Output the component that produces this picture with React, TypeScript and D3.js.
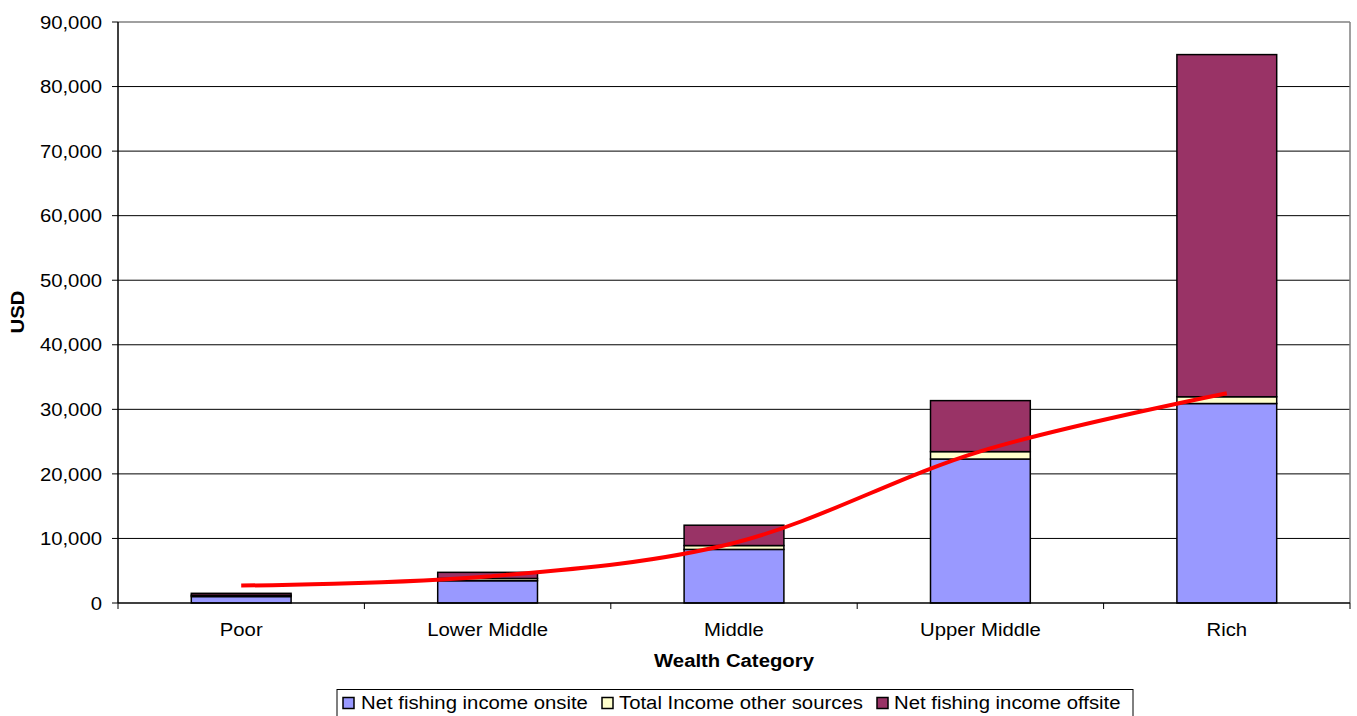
import React from "react";
import * as d3 from "d3";

const categories = ["Poor", "Lower Middle", "Middle", "Upper Middle", "Rich"];
const onsite = [1000, 3450, 8300, 22300, 30900];
const otherSources = [200, 350, 600, 1150, 1050];
const offsite = [300, 950, 3150, 7900, 53000];
const trend = [2700, 4100, 9300, 23500, 32500];
const yTicks = [0, 10000, 20000, 30000, 40000, 50000, 60000, 70000, 80000, 90000];
const seriesNames = ["Net fishing income onsite", "Total Income other sources", "Net fishing income offsite"];
const seriesColors = ["#9999FF", "#FFFFCC", "#993366"];

const W = 1357;
const H = 716;
const left = 118;
const right = 1350;
const top = 22;
const bottom = 603;
const FONT = "Liberation Sans, Arial, sans-serif";
const SX = 1.07;

function T(props: { x: number; y: number; anchor?: string; size?: number; bold?: boolean; rotate?: number; children: React.ReactNode; dy?: string }) {
  const { x, y, anchor = "start", size = 19, bold = false, rotate = 0, children, dy } = props;
  return (
    <text
      transform={`translate(${x},${y}) rotate(${rotate}) scale(${SX},1)`}
      textAnchor={anchor}
      fontSize={size}
      fontWeight={bold ? "bold" : "normal"}
      fill="#000"
      dy={dy}
    >
      {children}
    </text>
  );
}

export default function App() {
  const x = d3.scaleBand<string>().domain(categories).range([left, right]).padding(0);
  const y = d3.scaleLinear().domain([0, 90000]).range([bottom, top]);
  const barW = x.bandwidth() * 0.405;
  const fmt = d3.format(",");

  const rows = categories.map((c, i) => ({ cat: c, onsite: onsite[i], other: otherSources[i], offsite: offsite[i] }));
  const stack = d3.stack<any>().keys(["onsite", "other", "offsite"])(rows);

  const line = d3
    .line<number>()
    .x((_, i) => (x(categories[i]) as number) + x.bandwidth() / 2)
    .y((d) => y(d))
    .curve(d3.curveCatmullRom.alpha(0.5));

  const legendSq = [343, 602, 877];
  const legendTx = [361, 619, 894];

  return (
    <svg width={W} height={H} style={{ position: "absolute", left: 0, top: 0, background: "#fff" }} fontFamily={FONT}>
      {yTicks.slice(1, -1).map((t) => (
        <line key={t} x1={left} x2={right} y1={y(t)} y2={y(t)} stroke="#000" strokeWidth={1} />
      ))}
      <line x1={left} x2={right} y1={y(90000)} y2={y(90000)} stroke="#808080" strokeWidth={1.5} />
      <line x1={right} x2={right} y1={top} y2={bottom} stroke="#808080" strokeWidth={1.5} />

      {stack.map((s, si) =>
        s.map((d, i) => {
          const cx = (x(categories[i]) as number) + x.bandwidth() / 2;
          return (
            <rect
              key={si + "-" + i}
              x={cx - barW / 2}
              y={y(d[1])}
              width={barW}
              height={Math.max(0, y(d[0]) - y(d[1]))}
              fill={seriesColors[si]}
              stroke="#000"
              strokeWidth={1.5}
            />
          );
        })
      )}

      <path d={line(trend) || ""} fill="none" stroke="#FF0000" strokeWidth={4} />

      <line x1={left} x2={left} y1={top} y2={bottom} stroke="#000" strokeWidth={1.5} />
      <line x1={left} x2={right} y1={bottom} y2={bottom} stroke="#000" strokeWidth={1.5} />
      {yTicks.map((t) => (
        <g key={t}>
          <line x1={left - 6} x2={left} y1={y(t)} y2={y(t)} stroke="#000" strokeWidth={1} />
          <T x={left - 16} y={y(t)} dy="0.35em" anchor="end">
            {fmt(t)}
          </T>
        </g>
      ))}
      {categories.map((c, i) => (
        <g key={c}>
          <line
            x1={(x(c) as number) + x.bandwidth()}
            x2={(x(c) as number) + x.bandwidth()}
            y1={bottom}
            y2={bottom + 6}
            stroke="#000"
            strokeWidth={1}
          />
          {i === 0 && <line x1={left} x2={left} y1={bottom} y2={bottom + 6} stroke="#000" strokeWidth={1} />}
          <T x={(x(c) as number) + x.bandwidth() / 2} y={636} anchor="middle">
            {c}
          </T>
        </g>
      ))}

      <T x={734} y={667} anchor="middle" bold>
        Wealth Category
      </T>
      <T x={24} y={312} anchor="middle" bold rotate={-90}>
        USD
      </T>

      <rect x={337} y={689.5} width={796} height={40} fill="#fff" stroke="#000" strokeWidth={1} />
      {seriesNames.map((n, i) => (
        <g key={n}>
          <rect x={legendSq[i]} y={697.5} width={11} height={11} fill={seriesColors[i]} stroke="#000" strokeWidth={1.5} />
          <T x={legendTx[i]} y={709}>
            {n}
          </T>
        </g>
      ))}
    </svg>
  );
}
